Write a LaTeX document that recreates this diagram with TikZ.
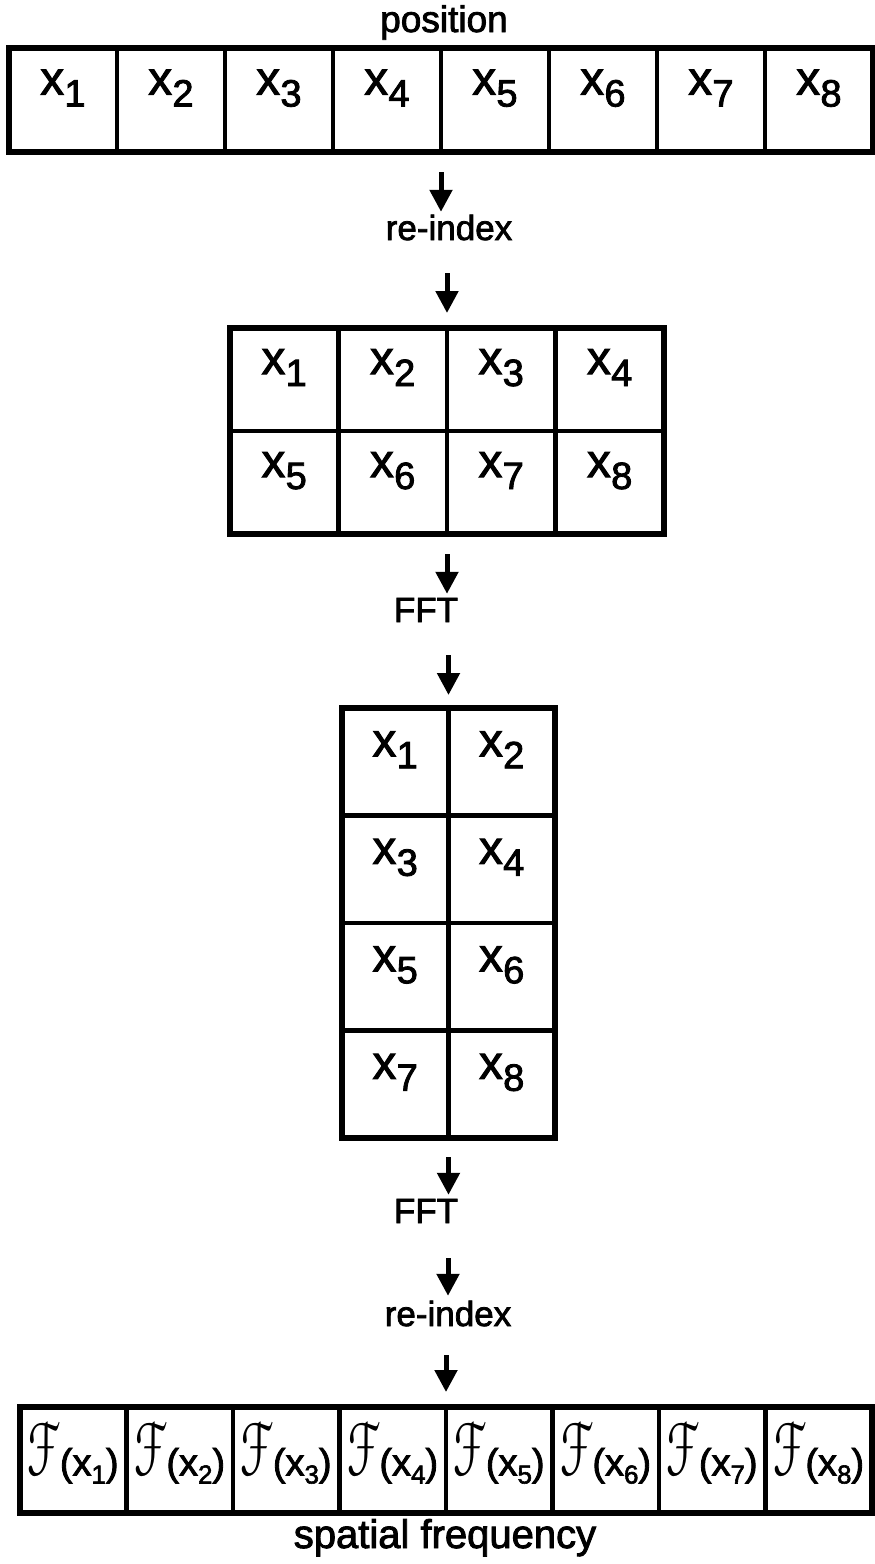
\documentclass[tikz,border=0pt]{standalone}
\usepackage{fontspec}
\setmainfont{Liberation Sans}[FakeBold=2.2]
\usepackage{eucal}
\usetikzlibrary{arrows.meta}
\newcommand\xv[1]{x\kern0.5pt\raisebox{-12pt}{\fontsize{38}{38}\selectfont#1}}
\newcommand\fx[1]{\resizebox*{31pt}{54pt}{$\mathcal{F}$}\kern1pt{\fontsize{38}{38}\selectfont(x\raisebox{-8pt}{\fontsize{26}{26}\selectfont#1})}}
\tikzset{
  box/.style={draw, line width=4.5pt, inner sep=0pt, outer sep=0pt},
  cell/.style 2 args={box, minimum width=#1, minimum height=#2,
    text height=10pt, text depth=21pt, font=\fontsize{47}{47}\selectfont},
  fcell/.style={box, minimum width=106.5pt, minimum height=106pt,
    text height=45pt, text depth=14pt},
  frame/.style={draw, line width=6pt},
  lbl/.style={inner sep=0pt, text height=25pt, text depth=8pt,
    font=\fontsize{35}{35}\selectfont, anchor=base},
  arr/.style={line width=5pt, -{Triangle[width=22pt,length=22pt]}}
}
\begin{document}
\begin{tikzpicture}[x=1pt,y=-1pt]
\useasboundingbox (0,0) rectangle (875,1564);
% top row
\node[lbl, font=\fontsize{37}{37}\selectfont] (pos) at (444,32) {position};
\foreach \i in {1,...,8}
  \node[cell={108pt}{104pt}] (t\i) at ({63+108*(\i-1)},100) {\xv{\i}};
\draw[frame] (t1.north west) rectangle (t8.south east);
\node[lbl] (ri1) at (449,240) {re-index};
\draw[arr, shorten <=20pt, shorten >=3pt] (t4.south east) -- (t4.south east |- ri1.north);
% 2x4 grid
\foreach \i in {1,...,4} {
  \node[cell={108.5pt}{103pt}] (g\i) at ({230+54.25+108.5*(\i-1)},379.5) {\xv{\i}};
}
\foreach \i/\j in {5/1,6/2,7/3,8/4} {
  \node[cell={108.5pt}{103pt}] (g\i) at ({230+54.25+108.5*(\j-1)},482.5) {\xv{\i}};
}
\draw[frame] (g1.north west) rectangle (g8.south east);
\draw[arr, shorten <=25pt, shorten >=15pt] (ri1.south -| g2.north east) -- (g2.north east);
\node[lbl] (fft1) at (426,622) {FFT};
\draw[arr, shorten <=20pt, shorten >=3pt] (g6.south east) -- (g6.south east |- fft1.north);
% 4x2 grid
\foreach \i/\c/\r in {1/1/1,2/2/1,3/1/2,4/2/2,5/1/3,6/2/3,7/1/4,8/2/4} {
  \node[cell={106.5pt}{107.5pt}] (h\i) at ({342+53.25+106.5*(\c-1)},{708+53.75+107.5*(\r-1)}) {\xv{\i}};
}
\draw[frame] (h1.north west) rectangle (h8.south east);
\draw[arr, shorten <=25pt, shorten >=13pt] (fft1.south -| h1.north east) -- (h1.north east);
\node[lbl] (fft2) at (426,1223) {FFT};
\draw[arr, shorten <=19pt, shorten >=3pt] (h7.south east) -- (h7.south east |- fft2.north);
\node[lbl] (ri2) at (448,1326) {re-index};
\draw[arr, shorten <=27pt, shorten >=5pt] (fft2.south -| ri2.north) -- (ri2.north);
% bottom row
\foreach \i in {1,...,8}
  \node[fcell] (b\i) at ({20+53.25+106.5*(\i-1)},1460) {\fx{\i}};
\draw[frame] (b1.north west) rectangle (b8.south east);
\draw[arr, shorten <=21pt, shorten >=15pt] (ri2.south -| b4.north east) -- (b4.north east);
\node[lbl, font=\fontsize{40}{40}\selectfont] (sf) at (445,1548) {spatial frequency};
\end{tikzpicture}
\end{document}
